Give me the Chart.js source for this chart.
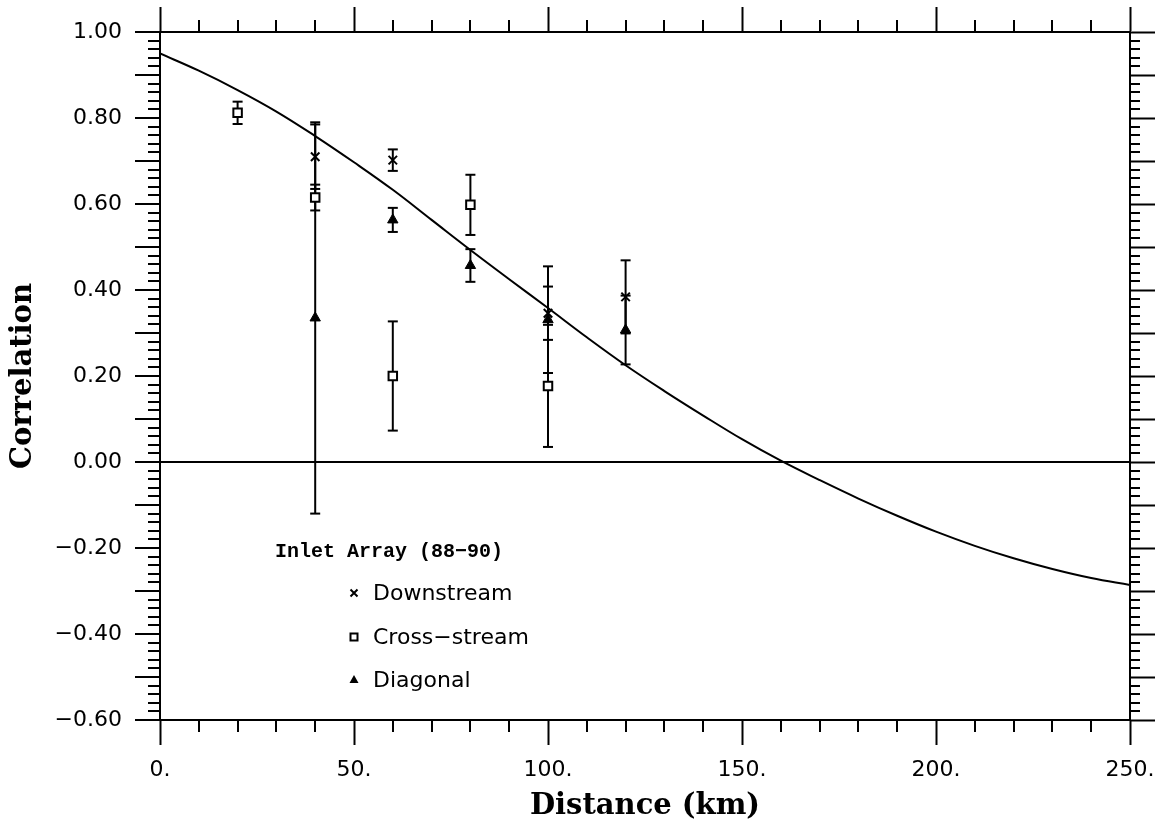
<!DOCTYPE html>
<html lang="en">
<head>
    <meta charset="UTF-8">
    <meta name="viewport" content="width=device-width, initial-scale=1.0">
    <script src="https://cdn.jsdelivr.net/npm/chart.js@4.4.1/dist/chart.umd.min.js"></script>
    <title>Correlation vs distance</title>
    <style>
        body { margin: 0; background: #fff; }
        #wrap { width: 1159px; height: 829px; }
    </style>
</head>
<body>
    <div id="wrap">
        <canvas id="corr-chart"></canvas>
    </div>
    <script>
        // station separations (km)
        var distKm = [20, 40, 60, 80, 100, 120];

        // correlation and error half-width per pair type (null = no pair)
        var downVal  = [null, 0.710, 0.702, null, 0.346, 0.384];
        var downErr  = [null, 0.075, 0.025, null, 0.062, 0.085];
        var crossVal = [0.812, 0.615, 0.200, 0.598, 0.177, null];
        var crossErr = [0.026, 0.030, 0.127, 0.070, 0.142, null];
        var diagVal  = [null, 0.335, 0.563, 0.457, 0.331, 0.307];
        var diagErr  = [null, 0.455, 0.028, 0.038, 0.124, 0.080];

        var fitKm   = [0, 10, 20, 30, 40, 50, 60, 70, 80, 90, 100, 110, 120, 130, 140, 150, 160, 170, 180, 190, 200, 210, 220, 230, 240, 250];
        var fitCorr = [0.950, 0.910, 0.865, 0.815, 0.758, 0.697, 0.633, 0.563, 0.493, 0.425, 0.358, 0.290, 0.225, 0.165, 0.108, 0.053, 0.003, -0.042, -0.085, -0.125, -0.162, -0.195, -0.224, -0.249, -0.270, -0.286];

        var legendTitle = 'Inlet Array (88\u221290)';
        var seriesNames = ['Downstream', 'Cross\u2212stream', 'Diagonal'];

        function pts(vals) {
            var out = [];
            for (var i = 0; i < distKm.length; i++) {
                if (vals[i] !== null) out.push({x: distKm[i], y: vals[i]});
            }
            return out;
        }

        function errorBars(vals, errs) {
            var sets = [];
            for (var i = 0; i < distKm.length; i++) {
                if (vals[i] === null) continue;
                sets.push({
                    data: [{x: distKm[i], y: vals[i] - errs[i]}, {x: distKm[i], y: vals[i] + errs[i]}],
                    showLine: true,
                    borderColor: '#000',
                    borderWidth: 2,
                    pointStyle: 'line',
                    pointRadius: 5,
                    pointBorderWidth: 2,
                    pointBorderColor: '#000'
                });
            }
            return sets;
        }

        var datasets = [
            {label: seriesNames[0], data: pts(downVal), pointStyle: 'crossRot', pointRadius: 6,
             pointBorderWidth: 2, pointBorderColor: '#000', showLine: false},
            {label: seriesNames[1], data: pts(crossVal), pointStyle: 'rect', pointRadius: 6,
             pointBorderWidth: 2, pointBorderColor: '#000', pointBackgroundColor: '#fff', showLine: false},
            {label: seriesNames[2], data: pts(diagVal), pointStyle: 'triangle', pointRadius: 6,
             pointBorderWidth: 1, pointBorderColor: '#000', pointBackgroundColor: '#000', showLine: false}
        ];
        datasets = datasets.concat(errorBars(downVal, downErr), errorBars(crossVal, crossErr), errorBars(diagVal, diagErr));

        var fitData = [];
        for (var i = 0; i < fitKm.length; i++) fitData.push({x: fitKm[i], y: fitCorr[i]});
        datasets.push({
            data: fitData, showLine: true, borderColor: '#000', borderWidth: 2,
            pointRadius: 0, tension: 0.4
        });

        // short ticks between the labelled ones
        var minorTicks = {
            id: 'minorTicks',
            afterDraw: function (chart) {
                var ctx = chart.ctx, a = chart.chartArea;
                var sx = chart.scales.x, sy = chart.scales.y;
                ctx.save();
                ctx.strokeStyle = '#000';
                ctx.lineWidth = 2;
                ctx.beginPath();
                for (var km = 10; km < 250; km += 10) {
                    if (km % 50 === 0) continue;
                    var px = Math.round(sx.getPixelForValue(km));
                    ctx.moveTo(px, a.bottom); ctx.lineTo(px, a.bottom + 12);
                    ctx.moveTo(px, a.top); ctx.lineTo(px, a.top - 12);
                }
                for (var k = 1; k < 80; k++) {
                    if (k % 5 === 0) continue;
                    var py = Math.round(sy.getPixelForValue(-0.6 + k * 0.02));
                    ctx.moveTo(a.left - 12, py); ctx.lineTo(a.left, py);
                    ctx.moveTo(a.right, py); ctx.lineTo(a.right + 10, py);
                }
                ctx.stroke();
                ctx.restore();
            }
        };

        // legend box inside the plot
        var innerLegend = {
            id: 'innerLegend',
            afterDraw: function (chart) {
                var ctx = chart.ctx;
                ctx.save();
                ctx.fillStyle = '#000';
                ctx.strokeStyle = '#000';
                ctx.textBaseline = 'middle';
                ctx.font = 'bold 20px "Liberation Mono"';
                ctx.fillText(legendTitle, 275, 552);
                ctx.font = '22px "DejaVu Sans"';
                var rows = [593, 637, 680];
                var mx = 354;
                for (var r = 0; r < 3; r++) {
                    var y = rows[r];
                    ctx.lineWidth = 2;
                    ctx.beginPath();
                    if (r === 0) {
                        ctx.moveTo(mx - 3.5, y - 3.5); ctx.lineTo(mx + 3.5, y + 3.5);
                        ctx.moveTo(mx + 3.5, y - 3.5); ctx.lineTo(mx - 3.5, y + 3.5);
                        ctx.stroke();
                    } else if (r === 1) {
                        ctx.strokeRect(mx - 3.5, y - 3.5, 7, 7);
                    } else {
                        ctx.moveTo(mx, y - 5); ctx.lineTo(mx + 4.5, y + 3); ctx.lineTo(mx - 4.5, y + 3);
                        ctx.closePath();
                        ctx.fill();
                    }
                    ctx.fillText(seriesNames[r], 373, y + 1);
                }
                ctx.restore();
            }
        };

        var axisBorder = {display: true, color: '#000', width: 2};
        var tickFont = {family: 'DejaVu Sans', size: 22};
        var titleFont = {family: 'DejaVu Serif', size: 29, weight: 'bold'};

        function fixHeight(h) {
            return function (s) { s.height = h; s.paddingLeft = 0; s.paddingRight = 0; };
        }

        var ctx = document.getElementById('corr-chart');
        var myChart = new Chart(ctx, {
            type: 'scatter',
            data: {datasets: datasets},
            plugins: [minorTicks, innerLegend],
            options: {
                responsive: true,
                maintainAspectRatio: false,
                animation: false,
                layout: {padding: 0},
                plugins: {legend: {display: false}, tooltip: {enabled: false}},
                scales: {
                    x: {
                        type: 'linear', position: 'bottom', min: 0, max: 250,
                        afterFit: fixHeight(109),
                        ticks: {stepSize: 50, padding: 12, color: '#000', font: tickFont,
                                maxRotation: 0,
                                callback: function (v) { return v + '.'; }},
                        grid: {drawOnChartArea: false, tickLength: 25, tickWidth: 2, tickColor: '#000'},
                        border: axisBorder,
                        title: {display: true, text: 'Distance (km)', color: '#000', font: titleFont,
                                padding: {top: 0, bottom: 5}}
                    },
                    x2: {
                        type: 'linear', position: 'top', min: 0, max: 250,
                        afterFit: fixHeight(32),
                        ticks: {stepSize: 50, display: false},
                        grid: {drawOnChartArea: false, tickLength: 25, tickWidth: 2, tickColor: '#000'},
                        border: axisBorder
                    },
                    y: {
                        type: 'linear', position: 'left', min: -0.6, max: 1.0,
                        afterFit: function (s) { s.width = 160; },
                        ticks: {stepSize: 0.1, padding: 13, color: '#000', font: tickFont,
                                callback: function (v) {
                                    var n = Math.round(v * 10);
                                    if (n % 2 !== 0) return '';
                                    var t = Math.abs(n / 10).toFixed(2);
                                    return n < 0 ? '\u2212' + t : t;
                                }},
                        grid: {
                            tickLength: 25, tickWidth: 2, tickColor: '#000', lineWidth: 2,
                            color: function (c) {
                                return c.tick && Math.abs(c.tick.value) < 1e-9 ? '#000' : 'rgba(0,0,0,0)';
                            }
                        },
                        border: axisBorder,
                        title: {display: true, text: 'Correlation', color: '#000', font: titleFont,
                                padding: {top: 6, bottom: 0}}
                    },
                    y2: {
                        type: 'linear', position: 'right', min: -0.6, max: 1.0,
                        afterFit: function (s) { s.width = 29; },
                        ticks: {stepSize: 0.1, display: false},
                        grid: {drawOnChartArea: false, tickLength: 25, tickWidth: 2, tickColor: '#000'},
                        border: axisBorder
                    }
                }
            }
        });
    </script>
</body>
</html>
